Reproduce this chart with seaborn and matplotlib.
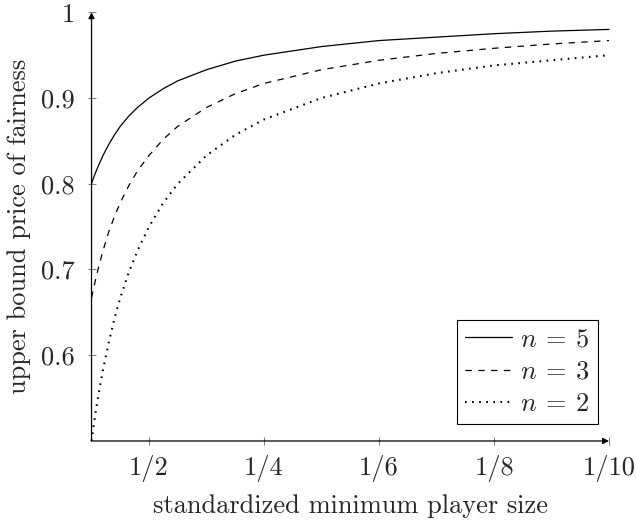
import pandas as pd
import seaborn as sns
import matplotlib.pyplot as plt

# values (x = 1 / standardized minimum player size)
x_vals = [1, 1.03, 1.07, 1.12, 1.2, 1.3, 1.4, 1.5, 1.65, 1.8, 2, 2.25, 2.5, 3, 3.5,
          4, 5, 6, 7, 8, 9, 10]
n5_vals = [0.800, 0.806, 0.813, 0.821, 0.833, 0.846, 0.857, 0.867, 0.879, 0.889,
           0.900, 0.911, 0.920, 0.933, 0.943, 0.950, 0.960, 0.967, 0.971, 0.975,
           0.978, 0.980]
n3_vals = [0.667, 0.676, 0.688, 0.702, 0.722, 0.744, 0.762, 0.778, 0.798, 0.815,
           0.833, 0.852, 0.867, 0.889, 0.905, 0.917, 0.933, 0.944, 0.952, 0.958,
           0.963, 0.967]
n2_vals = [0.500, 0.515, 0.533, 0.554, 0.583, 0.615, 0.643, 0.667, 0.697, 0.722,
           0.750, 0.778, 0.800, 0.833, 0.857, 0.875, 0.900, 0.917, 0.929, 0.938,
           0.944, 0.950]

x_ticks = [2, 4, 6, 8, 10]
x_labels = ['1/2', '1/4', '1/6', '1/8', '1/10']
y_ticks = [0.6, 0.7, 0.8, 0.9, 1.0]
y_labels = ['0.6', '0.7', '0.8', '0.9', '1']

sns.set_style('white')
plt.rcParams['font.family'] = ['cmr10', 'DejaVu Serif']
plt.rcParams['mathtext.fontset'] = 'cm'
plt.rcParams['axes.formatter.use_mathtext'] = True
plt.rcParams['lines.scale_dashes'] = False
FS = 19

fig = plt.figure(figsize=(6.36, 5.22), dpi=100)
ax = fig.add_axes([0.1439, 0.1552, 0.8137, 0.8213])

# curves
series = [
    (n5_vals, r'$n\:=\:5$', '-', 0.9),
    (n3_vals, r'$n\:=\:3$', (0, (4.6, 4.6)), 0.9),
    (n2_vals, r'$n\:=\:2$', (0, (1.2, 3.9)), 1.5),
]
for vals, lab, ls, lw in series:
    df = pd.DataFrame({'x': x_vals, 'y': vals})
    sns.lineplot(data=df, x='x', y='y', ax=ax, color='black', linestyle=ls,
                 linewidth=lw, label=lab, clip_on=False)

ax.set_xlim(1, 10)
ax.set_ylim(0.5, 1.0)

# pgfplots-style axis lines with arrows
for s in ax.spines.values():
    s.set_visible(False)
arrow = dict(arrowstyle='-|>', color='black', lw=0.9, mutation_scale=9,
             shrinkA=0, shrinkB=0)
ax.annotate('', xy=(1, 0), xytext=(0, 0), xycoords='axes fraction', arrowprops=arrow)
ax.annotate('', xy=(0, 1), xytext=(0, 0), xycoords='axes fraction', arrowprops=arrow)

ax.set_xticks(x_ticks)
ax.set_xticklabels(x_labels)
ax.set_yticks(y_ticks)
ax.set_yticklabels(y_labels)
ax.tick_params(axis='both', direction='inout', length=6, width=0.8, color='#808080',
               labelsize=FS, bottom=True, left=True)
ax.tick_params(axis='y', pad=9)
ax.tick_params(axis='x', pad=7)

ax.set_xlabel('standardized minimum player size', fontsize=FS, labelpad=9)
ax.set_ylabel('upper bound price of fairness', fontsize=FS, labelpad=7)

leg = ax.legend(loc='lower right', bbox_to_anchor=(0.979, 0.04), borderaxespad=0,
                fontsize=FS, frameon=True, fancybox=False, framealpha=1,
                edgecolor='black', handlelength=1.8, handletextpad=0.3,
                labelspacing=0.32, borderpad=0.3)
leg.get_frame().set_linewidth(0.8)

plt.savefig('out.png', dpi=100)
